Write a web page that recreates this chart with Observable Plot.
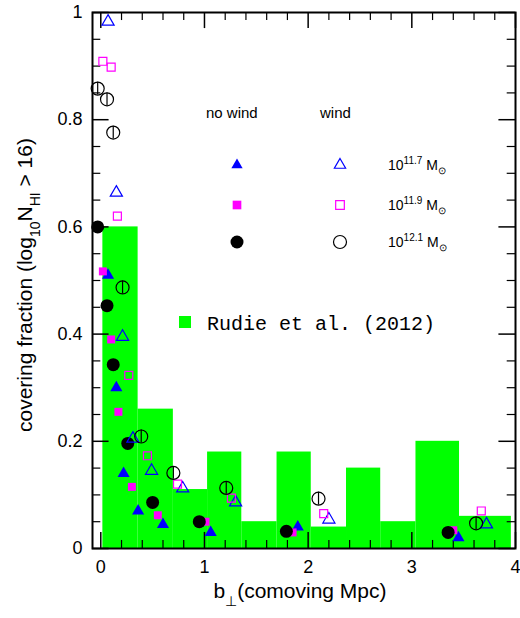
<!DOCTYPE html>
<html><head><meta charset="utf-8">
<script src="https://cdn.jsdelivr.net/npm/d3@7"></script>
<script src="https://cdn.jsdelivr.net/npm/@observablehq/plot@0.6"></script>
<style>body{margin:0;background:#fff}</style>
</head><body><div id="c"></div>
<script>
const binEdges = [0.02,0.36,0.70,1.03,1.36,1.70,2.03,2.37,2.70,3.04,3.46,3.96];
const binValues = [0.60,0.26,0.11,0.18,0.05,0.18,0.04,0.15,0.05,0.20,0.06];

const noWind117 = [[0.07,0.51],[0.15,0.30],[0.22,0.14],[0.36,0.07],[0.60,0.045],[1.06,0.03],[1.90,0.04],[3.45,0.02]];
const noWind119 = [[0.02,0.517],[0.10,0.39],[0.17,0.255],[0.30,0.115],[0.55,0.062],[1.01,0.05],[1.85,0.03],[3.40,0.034]];
const noWind121 = [[-0.03,0.60],[0.06,0.453],[0.12,0.343],[0.26,0.196],[0.50,0.086],[0.95,0.05],[1.79,0.032],[3.35,0.03]];
const wind117 = [[0.07,0.983],[0.15,0.664],[0.21,0.395],[0.31,0.205],[0.49,0.145],[0.79,0.112],[1.30,0.086],[2.20,0.054],[3.72,0.045]];
const wind119 = [[0.02,0.909],[0.10,0.898],[0.16,0.62],[0.27,0.323],[0.45,0.173],[0.74,0.12],[1.26,0.094],[2.15,0.065],[3.67,0.07]];
const wind121 = [[-0.03,0.858],[0.06,0.838],[0.12,0.776],[0.21,0.487],[0.39,0.209],[0.70,0.141],[1.21,0.113],[2.10,0.093],[3.62,0.047]];

const xTicks = [0,1,2,3,4];
const yTicks = [0,0.2,0.4,0.6,0.8,1];
const xMinor = d3.range(0,4.01,0.2).filter(v=>Math.abs(v-Math.round(v))>1e-6);
const yMinor = d3.range(0,1.001,0.05).filter(v=>Math.abs(v*5-Math.round(v*5))>1e-6);

const bins = binValues.map((v,i)=>({x1:binEdges[i],x2:binEdges[i+1],y:v}));
const X0=-0.08, X1=4.0;
const errC = 0.012;

const sym = (data, symbol, fill, stroke, r) => Plot.dot(data,{x:d=>d[0],y:d=>d[1],symbol,r,fill,stroke,strokeWidth:1.2});

const chart = Plot.plot({
  width:520,height:618,marginLeft:92,marginRight:5,marginTop:12,marginBottom:70,
  x:{domain:[X0,X1]}, y:{domain:[0,1]},
  style:{fontFamily:"Liberation Sans, Arial, sans-serif",fontSize:"17px",background:"#fff"},
  marks:[
    Plot.rectY(bins,{x1:"x1",x2:"x2",y:"y",fill:"#00ff00"}),
    Plot.ruleX(xTicks,{x:d=>d,y1:0,y2:0.03,strokeWidth:1.5}),
    Plot.ruleX(xTicks,{x:d=>d,y1:0.97,y2:1,strokeWidth:1.5}),
    Plot.ruleX(xMinor,{x:d=>d,y1:0,y2:0.015,strokeWidth:1.2}),
    Plot.ruleX(xMinor,{x:d=>d,y1:0.985,y2:1,strokeWidth:1.2}),
    Plot.ruleY(yTicks,{y:d=>d,x1:X0,x2:X0+0.16,strokeWidth:1.5}),
    Plot.ruleY(yTicks,{y:d=>d,x1:X1-0.16,x2:X1,strokeWidth:1.5}),
    Plot.ruleY(yMinor,{y:d=>d,x1:X0,x2:X0+0.08,strokeWidth:1.2}),
    Plot.ruleY(yMinor,{y:d=>d,x1:X1-0.08,x2:X1,strokeWidth:1.2}),
    Plot.axisX(xTicks,{tickSize:0,tickPadding:12,fontSize:18,label:null}),
    Plot.axisY(yTicks,{tickSize:0,tickPadding:10,fontSize:18,label:null,tickFormat:d=>String(d)}),
    sym(noWind117,"triangle","blue","none",4.5),
    sym(noWind119,"square","magenta","none",4.5),
    sym(noWind121,"circle","black","none",6.5),
    Plot.ruleX(wind121,{x:d=>d[0],y1:d=>d[1]-errC,y2:d=>d[1]+errC,stroke:"black",strokeWidth:1.2}),
    sym(wind117,"triangle","none","blue",4.5),
    sym(wind119,"square","none","magenta",4.5),
    sym(wind121,"circle","none","black",6.5),
    Plot.frame({strokeWidth:2})
  ]
});
document.getElementById("c").appendChild(chart);

const svg = d3.select(chart);
const F = "Liberation Sans, Arial, sans-serif";
svg.append("text").attr("x",300).attr("y",598).attr("text-anchor","middle")
  .attr("font-family",F).attr("font-size",21)
  .html('b<tspan baseline-shift="sub" font-size="14">⊥</tspan>(comoving Mpc)');
svg.append("text").attr("transform","translate(32,285) rotate(-90)").attr("text-anchor","middle")
  .attr("font-family",F).attr("font-size",21)
  .html('covering fraction (log<tspan baseline-shift="sub" font-size="14">10</tspan>N<tspan baseline-shift="sub" font-size="14">HI</tspan> &gt; 16)');
const lg = svg.append("g").attr("font-family",F).attr("text-anchor","start");
lg.append("text").attr("x",206).attr("y",118).attr("font-size",15).text("no wind");
lg.append("text").attr("x",320).attr("y",118).attr("font-size",15).text("wind");
const rows = [["11.7",165],["11.9",205],["12.1",242]];
rows.forEach(([e,y])=>{
  lg.append("text").attr("x",388).attr("y",y+5).attr("font-size",14)
    .html(`10<tspan dy="-6" font-size="10">${e}</tspan><tspan dy="6"> M</tspan><tspan dy="4" font-size="10">⊙</tspan>`);
});
const tri = d3.symbol(d3.symbolTriangle, 55)(), sq = d3.symbol(d3.symbolSquare, 75)();
lg.append("path").attr("d",tri).attr("transform","translate(237,165)").attr("fill","blue");
lg.append("path").attr("d",tri).attr("transform","translate(340,165)").attr("fill","none").attr("stroke","blue").attr("stroke-width",1.2);
lg.append("path").attr("d",sq).attr("transform","translate(237,205)").attr("fill","magenta");
lg.append("path").attr("d",sq).attr("transform","translate(340,205)").attr("fill","none").attr("stroke","magenta").attr("stroke-width",1.2);
lg.append("circle").attr("cx",237).attr("cy",242).attr("r",6.5).attr("fill","black");
lg.append("circle").attr("cx",340).attr("cy",242).attr("r",6.5).attr("fill","none").attr("stroke","black").attr("stroke-width",1.2);
lg.append("rect").attr("x",179).attr("y",316).attr("width",12).attr("height",12).attr("fill","#00ff00");
lg.append("text").attr("x",207).attr("y",330).attr("font-family","Liberation Mono, monospace").attr("font-size",20).text("Rudie et al. (2012)");
</script></body></html>
